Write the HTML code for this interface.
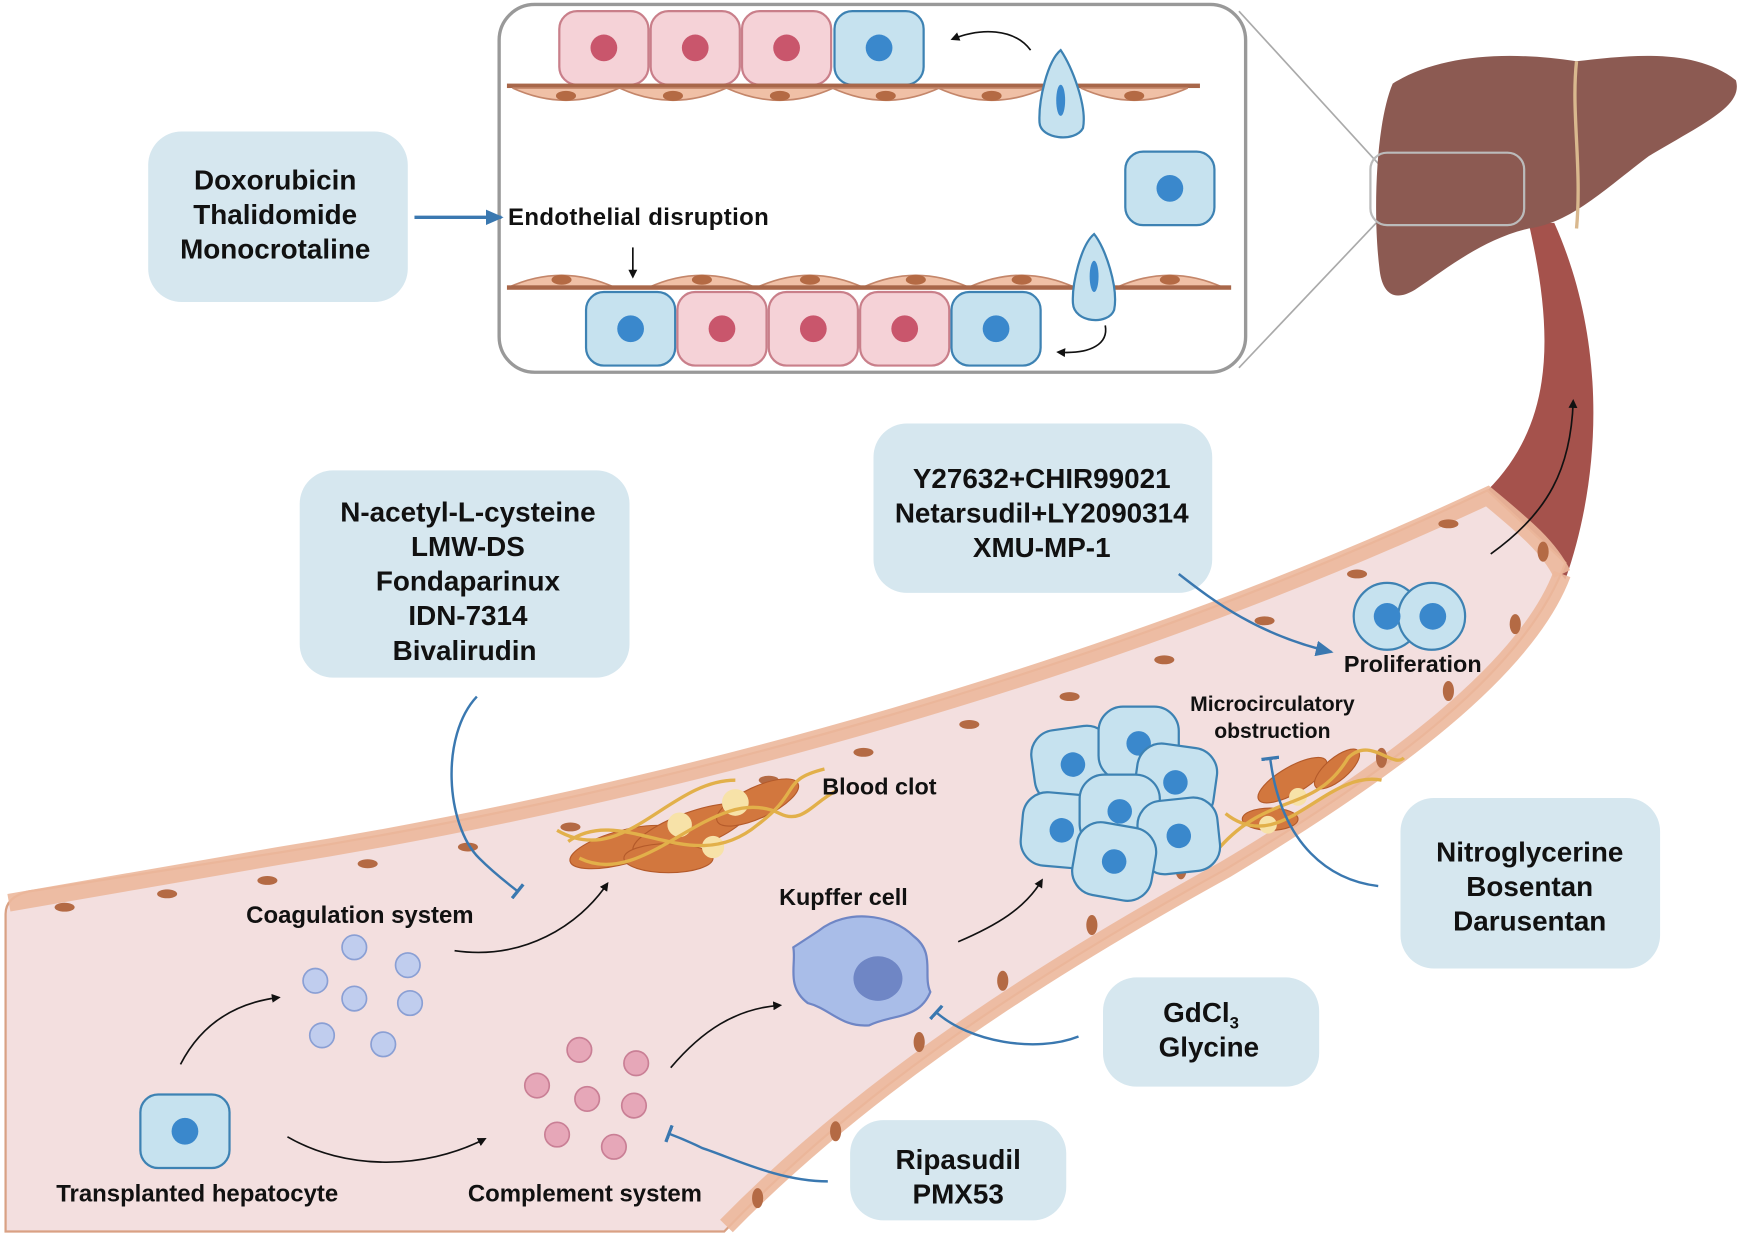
<!DOCTYPE html>
<html><head><meta charset="utf-8"><style>
html,body{margin:0;padding:0;background:#fff}
svg{display:block}
text{font-family:"Liberation Sans",sans-serif;font-weight:bold;fill:#111}
</style></head><body>
<svg width="1747" height="1236" viewBox="0 0 1568 1109" preserveAspectRatio="none" xmlns="http://www.w3.org/2000/svg">
<defs>
<marker id="ab" markerWidth="8" markerHeight="8" refX="6" refY="4" orient="auto" markerUnits="userSpaceOnUse"><path d="M0,0 L8,4 L0,8 Z" fill="#111"/></marker>
<marker id="bb" markerWidth="16" markerHeight="14" refX="14" refY="7" orient="auto" markerUnits="userSpaceOnUse"><path d="M0,0 L16,7 L0,14 Z" fill="#3a78b0"/></marker>
<marker id="tb" markerWidth="4" markerHeight="16" refX="2" refY="8" orient="auto" markerUnits="userSpaceOnUse"><rect x="0" y="0" width="3" height="16" fill="#3a78b0"/></marker>
<g id="bc"><rect x="-40" y="-33" width="80" height="66" rx="16" fill="#c6e2ef" stroke="#3d82b3" stroke-width="2"/><circle r="12" fill="#3a88cc"/></g>
<g id="pc"><rect x="-40" y="-33" width="80" height="66" rx="16" fill="#f5d2d7" stroke="#c97f8a" stroke-width="2"/><circle r="12" fill="#c9566c"/></g>
<g id="ec"><path d="M-48,0 Q0,-22 48,0 Z" fill="#f0c0a6" stroke="#c4866a" stroke-width="1.5"/><ellipse cx="0" cy="-7" rx="9" ry="4.5" fill="#b46a44"/></g>
<g id="ecd"><path d="M-48,0 Q0,22 48,0 Z" fill="#f0c0a6" stroke="#c4866a" stroke-width="1.5"/><ellipse cx="0" cy="7" rx="9" ry="4.5" fill="#b46a44"/></g>
<g id="hc"><rect x="-36" y="-33" width="72" height="66" rx="22" fill="#c6e2ef" stroke="#3d82b3" stroke-width="2"/><circle r="11" fill="#3a88cc"/></g>
</defs>

<line x1="1112" y1="10" x2="1240" y2="150" stroke="#aaa" stroke-width="1.5"/>
<line x1="1112" y1="330" x2="1240" y2="195" stroke="#aaa" stroke-width="1.5"/>

<!-- tube -->
<path d="M1372,200 C1395,300 1395,380 1335,440 L1405,520 C1440,420 1440,300 1395,200 Z" fill="#a5524c"/>
<!-- vessel body -->
<path d="M5,820 Q5,805 25,800 L250,765 C600,710 1000,600 1335,440 L1405,505 C1370,600 1250,690 1100,780 C900,890 760,990 650,1105 L5,1105 Z" fill="#f3dfdf" stroke="#d9a184" stroke-width="2"/>
<path d="M8,810 L250,768 C600,712 1000,602 1335,445 C1365,470 1390,490 1402,515" fill="none" stroke="#ecb89c" stroke-width="16" opacity="0.9"/>
<path d="M652,1100 C760,990 900,890 1100,780 C1250,690 1370,600 1402,515" fill="none" stroke="#ecb89c" stroke-width="16" opacity="0.9"/>
<g fill="#b46a44">
<ellipse cx="58" cy="814" rx="9" ry="4"/><ellipse cx="150" cy="802" rx="9" ry="4"/><ellipse cx="240" cy="790" rx="9" ry="4"/><ellipse cx="330" cy="775" rx="9" ry="4"/><ellipse cx="420" cy="760" rx="9" ry="4"/><ellipse cx="512" cy="742" rx="9" ry="4"/><ellipse cx="690" cy="700" rx="9" ry="4"/><ellipse cx="775" cy="675" rx="9" ry="4"/><ellipse cx="870" cy="650" rx="9" ry="4"/><ellipse cx="960" cy="625" rx="9" ry="4"/><ellipse cx="1045" cy="592" rx="9" ry="4"/><ellipse cx="1135" cy="557" rx="9" ry="4"/><ellipse cx="1218" cy="515" rx="9" ry="4"/><ellipse cx="1300" cy="470" rx="9" ry="4"/>
<ellipse cx="680" cy="1075" rx="5" ry="9"/><ellipse cx="750" cy="1015" rx="5" ry="9"/><ellipse cx="825" cy="935" rx="5" ry="9"/><ellipse cx="900" cy="880" rx="5" ry="9"/><ellipse cx="980" cy="830" rx="5" ry="9"/><ellipse cx="1060" cy="780" rx="5" ry="9"/><ellipse cx="1240" cy="680" rx="5" ry="9"/><ellipse cx="1300" cy="620" rx="5" ry="9"/><ellipse cx="1360" cy="560" rx="5" ry="9"/><ellipse cx="1385" cy="495" rx="5" ry="9"/>
</g>

<!-- liver -->
<path d="M1250,75 C1290,50 1350,45 1415,55 C1460,50 1520,42 1558,72 C1565,95 1530,110 1480,140 C1440,170 1410,200 1372,205 C1330,215 1300,240 1270,260 C1250,272 1240,262 1238,240 C1232,190 1235,110 1250,75 Z" fill="#8c5a52"/>
<path d="M1415,55 C1410,100 1420,150 1415,205" stroke="#d9b88e" stroke-width="3" fill="none"/>
<rect x="1230" y="137" width="138" height="65" rx="15" fill="none" stroke="#bbb" stroke-width="2"/>

<!-- inset -->
<rect x="448" y="4" width="670" height="330" rx="32" fill="#fff" stroke="#999" stroke-width="3"/>
<use href="#pc" x="542" y="43"/><use href="#pc" x="624" y="43"/><use href="#pc" x="706" y="43"/><use href="#bc" x="789" y="43"/>
<rect x="455" y="75" width="622" height="4" fill="#a8674a"/>
<use href="#ecd" x="508" y="79"/><use href="#ecd" x="604" y="79"/><use href="#ecd" x="700" y="79"/><use href="#ecd" x="795" y="79"/><use href="#ecd" x="890" y="79"/><use href="#ecd" x="1018" y="79"/>
<path d="M952,45 C940,55 932,90 933,110 C934,125 965,128 972,115 C976,95 962,60 952,45 Z" fill="#c6e2ef" stroke="#3d82b3" stroke-width="2"/><ellipse cx="952" cy="90" rx="4" ry="14" fill="#3a88cc"/>
<path d="M925,45 C910,25 880,25 855,35" fill="none" stroke="#111" stroke-width="1.5" marker-end="url(#ab)"/>
<use href="#bc" x="1050" y="169"/>
<use href="#ec" x="504" y="258"/><use href="#ec" x="630" y="258"/><use href="#ec" x="727" y="258"/><use href="#ec" x="822" y="258"/><use href="#ec" x="917" y="258"/><use href="#ec" x="1050" y="258"/>
<rect x="455" y="256" width="650" height="4" fill="#a8674a"/>
<path d="M982,210 C970,220 962,255 963,272 C964,290 995,292 1000,278 C1004,258 992,222 982,210 Z" fill="#c6e2ef" stroke="#3d82b3" stroke-width="2"/><ellipse cx="982" cy="248" rx="4" ry="14" fill="#3a88cc"/>
<use href="#bc" x="566" y="295"/><use href="#pc" x="648" y="295"/><use href="#pc" x="730" y="295"/><use href="#pc" x="812" y="295"/><use href="#bc" x="894" y="295"/>
<path d="M992,292 C995,308 980,318 950,316" fill="none" stroke="#111" stroke-width="1.5" marker-end="url(#ab)"/>
<line x1="568" y1="222" x2="568" y2="248" stroke="#111" stroke-width="1.5" marker-end="url(#ab)"/>
<text x="456" y="202" font-size="21.5" textLength="234">Endothelial disruption</text>

<g fill="#d6e7ef">
<rect x="133" y="118" width="233" height="153" rx="30"/>
<rect x="269" y="422" width="296" height="186" rx="30"/>
<rect x="784" y="380" width="304" height="152" rx="30"/>
<rect x="1257" y="716" width="233" height="153" rx="30"/>
<rect x="990" y="877" width="194" height="98" rx="30"/>
<rect x="763" y="1005" width="194" height="90" rx="30"/>
</g>
<g font-size="25" text-anchor="middle">
<text x="247" y="170">Doxorubicin</text><text x="247" y="201">Thalidomide</text><text x="247" y="232">Monocrotaline</text>
<text x="420" y="468">N-acetyl-L-cysteine</text><text x="420" y="499">LMW-DS</text><text x="420" y="530">Fondaparinux</text><text x="420" y="561">IDN-7314</text><text x="417" y="592">Bivalirudin</text>
<text x="935" y="438">Y27632+CHIR99021</text><text x="935" y="469">Netarsudil+LY2090314</text><text x="935" y="500">XMU-MP-1</text>
<text x="1373" y="773">Nitroglycerine</text><text x="1373" y="804">Bosentan</text><text x="1373" y="835">Darusentan</text>
<text x="1078" y="917">GdCl<tspan font-size="15" dy="6">3</tspan></text><text x="1085" y="948">Glycine</text>
<text x="860" y="1049">Ripasudil</text><text x="860" y="1080">PMX53</text>
</g>
<line x1="372" y1="195" x2="450" y2="195" stroke="#3a78b0" stroke-width="3" marker-end="url(#bb)"/>

<!-- clots -->
<g fill="#d2773e" stroke="#b45a2a" stroke-width="1">
<ellipse cx="560" cy="760" rx="50" ry="15" transform="rotate(-15 560 760)"/><ellipse cx="620" cy="745" rx="55" ry="16" transform="rotate(-20 620 745)"/><ellipse cx="680" cy="720" rx="40" ry="14" transform="rotate(-25 680 720)"/><ellipse cx="600" cy="770" rx="40" ry="13"/>
<ellipse cx="1160" cy="700" rx="35" ry="12" transform="rotate(-30 1160 700)"/><ellipse cx="1140" cy="735" rx="25" ry="10"/><ellipse cx="1200" cy="690" rx="25" ry="10" transform="rotate(-40 1200 690)"/>
</g>
<g fill="#f7e2a8"><circle cx="660" cy="720" r="12"/><circle cx="610" cy="740" r="11"/><circle cx="640" cy="760" r="10"/><circle cx="1165" cy="715" r="8"/><circle cx="1138" cy="740" r="8"/></g>
<g fill="none" stroke="#e2b04a" stroke-width="3">
<path d="M510,755 C560,720 620,790 680,740 C720,710 700,700 740,690"/><path d="M520,770 C580,800 640,700 700,730 C720,740 730,720 750,710"/><path d="M500,745 C560,780 600,700 660,700"/>
<path d="M1095,760 C1140,710 1180,730 1210,680 C1230,660 1250,690 1260,680"/><path d="M1100,730 C1150,770 1190,690 1240,700"/>
</g>
<text x="738" y="713" font-size="21">Blood clot</text>
<text x="1142" y="638" font-size="19" text-anchor="middle">Microcirculatory</text>
<text x="1142" y="662" font-size="19" text-anchor="middle">obstruction</text>

<!-- cluster -->
<use href="#hc" x="963" y="686" transform="rotate(-8 963 686)"/>
<use href="#hc" x="1022" y="667"/>
<use href="#hc" x="1055" y="702" transform="rotate(8 1055 702)"/>
<use href="#hc" x="953" y="745" transform="rotate(5 953 745)"/>
<use href="#hc" x="1005" y="728"/>
<use href="#hc" x="1058" y="750" transform="rotate(-6 1058 750)"/>
<use href="#hc" x="1000" y="773" transform="rotate(10 1000 773)"/>

<!-- proliferation -->
<circle cx="1245" cy="553" r="30" fill="#c6e2ef" stroke="#3d82b3" stroke-width="2"/><circle cx="1285" cy="553" r="30" fill="#c6e2ef" stroke="#3d82b3" stroke-width="2"/>
<circle cx="1245" cy="553" r="12" fill="#3a88cc"/><circle cx="1286" cy="553" r="12" fill="#3a88cc"/>
<text x="1268" y="603" font-size="21" text-anchor="middle">Proliferation</text>
<path d="M1338,497 C1390,460 1410,420 1412,360" fill="none" stroke="#111" stroke-width="1.5" marker-end="url(#ab)"/>

<!-- kupffer -->
<path d="M735,835 C760,815 800,820 820,840 C840,855 828,875 835,890 C825,915 800,910 780,920 C755,922 745,905 725,900 C705,885 715,865 712,850 Z" fill="#a9bde8" stroke="#6f86c5" stroke-width="2"/>
<ellipse cx="788" cy="878" rx="22" ry="20" fill="#6f86c5"/>
<text x="757" y="812" font-size="21" text-anchor="middle">Kupffer cell</text>

<g fill="#c0cdee" stroke="#8a9fd4" stroke-width="1.5">
<circle cx="318" cy="850" r="11"/><circle cx="366" cy="866" r="11"/><circle cx="283" cy="880" r="11"/><circle cx="318" cy="896" r="11"/><circle cx="368" cy="900" r="11"/><circle cx="289" cy="929" r="11"/><circle cx="344" cy="937" r="11"/>
</g>
<g fill="#e6a7b8" stroke="#c97f95" stroke-width="1.5">
<circle cx="520" cy="942" r="11"/><circle cx="571" cy="954" r="11"/><circle cx="482" cy="974" r="11"/><circle cx="527" cy="986" r="11"/><circle cx="569" cy="992" r="11"/><circle cx="500" cy="1018" r="11"/><circle cx="551" cy="1029" r="11"/>
</g>
<text x="323" y="828" font-size="21.5" text-anchor="middle">Coagulation system</text>
<text x="525" y="1078" font-size="21.5" text-anchor="middle">Complement system</text>
<use href="#bc" x="166" y="1015"/>
<text x="177" y="1078" font-size="21.5" text-anchor="middle">Transplanted hepatocyte</text>

<g fill="none" stroke="#111" stroke-width="1.5" marker-end="url(#ab)">
<path d="M162,955 C180,920 210,900 250,895"/>
<path d="M258,1020 C310,1050 380,1050 435,1022"/>
<path d="M408,853 C470,862 520,830 545,793"/>
<path d="M602,958 C630,925 660,905 700,902"/>
<path d="M860,845 C895,830 920,815 935,790"/>
</g>

<g fill="none" stroke="#3a78b0" stroke-width="2.2">
<path d="M428,625 C395,660 400,740 430,770 C445,785 455,792 465,800" marker-end="url(#tb)"/>
<path d="M1058,515 C1090,540 1130,570 1195,585" marker-end="url(#bb)"/>
<path d="M1237,795 C1195,790 1150,760 1140,680" marker-end="url(#tb)"/>
<path d="M968,930 C930,945 870,935 840,908" marker-end="url(#tb)"/>
<path d="M743,1060 C700,1060 660,1040 630,1030 C620,1025 608,1020 600,1017" marker-end="url(#tb)"/>
</g>
</svg>
</body></html>
